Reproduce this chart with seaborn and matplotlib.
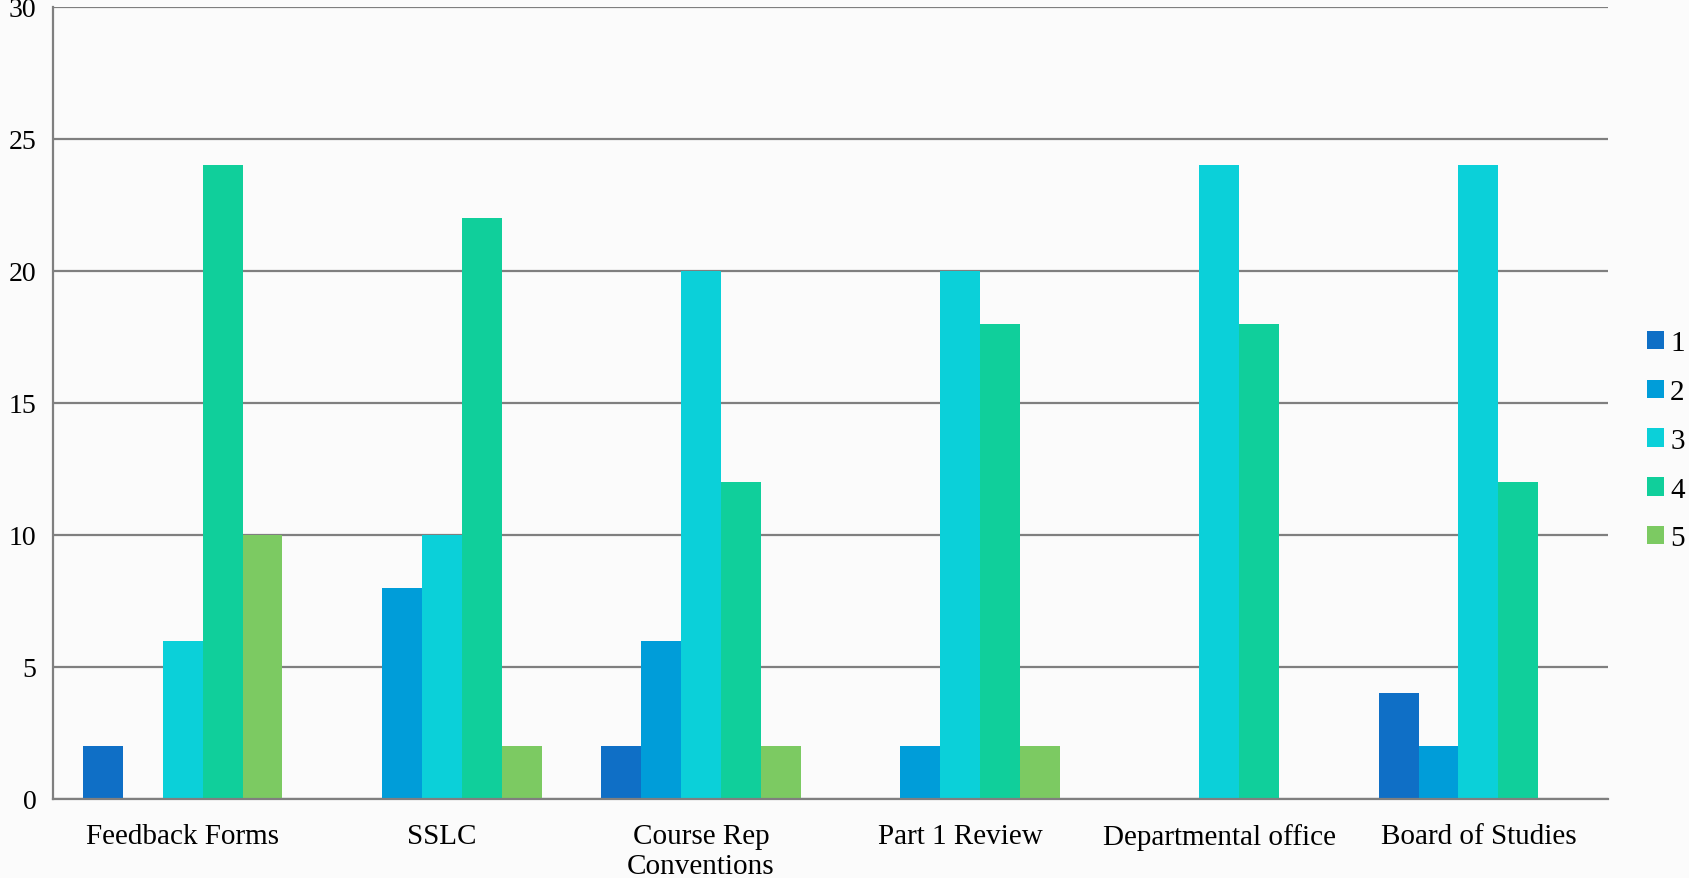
import matplotlib
matplotlib.use("Agg")
import matplotlib.pyplot as plt
import seaborn as sns
import pandas as pd

categories = ["Feedback Forms", "SSLC", "Course Rep\nConventions", "Part 1 Review",
              "Departmental office", "Board of Studies"]
series_names = ["1", "2", "3", "4", "5"]
s1 = [2, 0, 2, 0, 0, 4]
s2 = [0, 8, 6, 2, 0, 2]
s3 = [6, 10, 20, 20, 24, 24]
s4 = [24, 22, 12, 18, 18, 12]
s5 = [10, 2, 2, 2, 0, 0]
y_ticks = [0, 5, 10, 15, 20, 25, 30]
colors = ["#0F6FC6", "#009DD9", "#0BD0D9", "#10CF9B", "#7CCA62"]

rows = []
for name, vals in zip(series_names, [s1, s2, s3, s4, s5]):
    for c, v in zip(categories, vals):
        rows.append({"category": c, "series": name, "value": v})
df = pd.DataFrame(rows)

sns.set_theme(style="white")
plt.rcParams["font.family"] = ["Liberation Serif", "DejaVu Serif"]
plt.rcParams["text.color"] = "black"

fig = plt.figure(figsize=(16.9, 8.79), dpi=100, facecolor="#FBFBFB")
ax = fig.add_axes([0.0314, 0.0899, 0.9201, 0.9011])
ax.set_facecolor("#FBFBFB")

sns.barplot(data=df, x="category", y="value", hue="series", order=categories,
            hue_order=series_names, palette=colors, width=0.77, saturation=1,
            edgecolor="none", linewidth=0, ax=ax)

ax.set_ylim(0, 30)
ax.set_xlim(-0.5, len(categories) - 0.5)
ax.set_yticks(y_ticks)
ax.set_yticklabels([str(t) for t in y_ticks], fontsize=20)
ax.yaxis.grid(True, color="#7F7F7F", linewidth=1.6)
ax.set_axisbelow(True)
ax.set_xlabel("")
ax.set_ylabel("")

for s in ["top", "right"]:
    ax.spines[s].set_visible(False)
for s in ["left", "bottom"]:
    ax.spines[s].set_color("#7F7F7F")
    ax.spines[s].set_linewidth(1.6)

ax.set_xticks(range(len(categories)))
ax.set_xticklabels(categories, fontsize=21, linespacing=1.2)
ax.tick_params(axis="x", which="major", length=0, pad=17, labelcolor="black")
ax.set_xticks([i - 0.5 for i in range(len(categories) + 1)], minor=True)
ax.tick_params(axis="x", which="minor", length=8, width=1.6, color="#7F7F7F", direction="out")
ax.tick_params(axis="y", which="major", length=9, width=1.6, color="#7F7F7F",
               direction="out", pad=3, labelcolor="black")

leg = ax.legend(loc="center left", bbox_to_anchor=(1.025, 0.452), frameon=False,
                fontsize=21, handlelength=0.6, handleheight=0.6, labelspacing=0.78,
                handletextpad=0.2, borderaxespad=0, borderpad=0)

fig.savefig("out.png", dpi=100, facecolor=fig.get_facecolor())
